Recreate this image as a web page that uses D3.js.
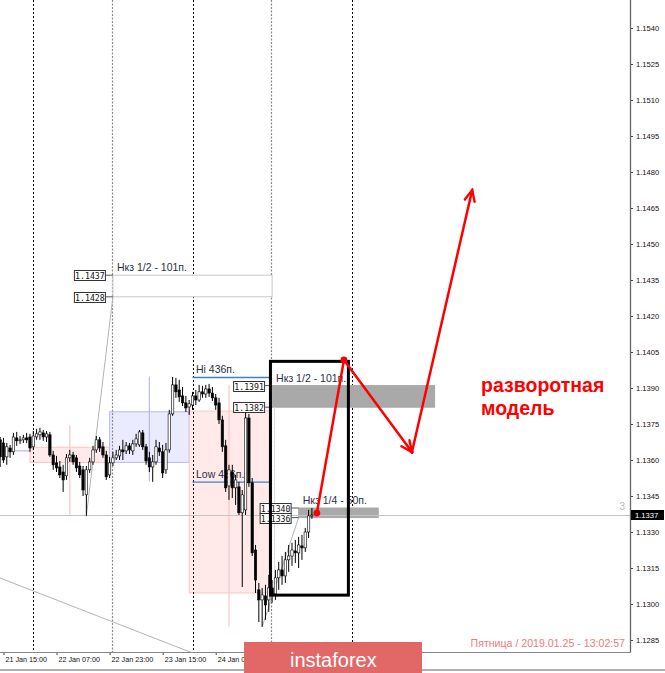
<!DOCTYPE html>
<html><head><meta charset="utf-8">
<script src="https://cdn.jsdelivr.net/npm/d3@7"></script>
<style>html,body{margin:0;padding:0;background:#fff;overflow:hidden}</style>
</head><body>
<svg id="c" width="665" height="673"></svg>
<script>
// ---------- DATA ----------
const firstBar = "2019-01-21T14:00Z"; // H1 bars, EURUSD
const opens = [1.13684,1.13671,1.13613,1.13650,1.13634,1.13692,1.13680,1.13684,1.13692,1.13696,
1.13655,1.13696,1.13705,1.13713,1.13696,1.13705,1.13621,1.13588,1.13571,1.13550,
1.13534,1.13609,1.13621,1.13609,1.13575,1.13559,1.13455,1.13559,1.13592,1.13642,
1.13684,1.13655,1.13621,1.13538,1.13588,1.13609,1.13617,1.13642,1.13638,1.13659,
1.13638,1.13667,1.13663,1.13713,1.13655,1.13609,1.13571,1.13592,1.13650,1.13634,
1.13559,1.13642,1.13792,1.13913,1.13892,1.13867,1.13838,1.13821,1.13829,1.13867,
1.13850,1.13884,1.13875,1.13896,1.13879,1.13859,1.13838,1.13767,1.13659,1.13492,
1.13550,1.13484,1.13488,1.13380,1.13392,1.13775,1.13505,1.13225,1.13059,1.13017,
1.13034,1.13017,1.13067,1.13042,1.13109,1.13142,1.13117,1.13184,1.13200,1.13221,
1.13213,1.13242,1.13234,1.13300,1.13367];
const highs = [1.13696,1.13692,1.13671,1.13663,1.13713,1.13717,1.13700,1.13705,1.13713,1.13709,
1.13721,1.13730,1.13734,1.13725,1.13721,1.13717,1.13638,1.13617,1.13596,1.13580,
1.13625,1.13642,1.13634,1.13621,1.13592,1.13575,1.13575,1.13609,1.13659,1.13700,
1.13696,1.13675,1.13638,1.13613,1.13634,1.13642,1.13659,1.13684,1.13675,1.13671,
1.13684,1.13709,1.13725,1.13725,1.13667,1.13634,1.13621,1.13684,1.13675,1.13663,
1.13671,1.13809,1.13946,1.13942,1.13934,1.13904,1.13867,1.13850,1.13884,1.13892,
1.13913,1.13909,1.13913,1.13917,1.13904,1.13875,1.13859,1.13784,1.13684,1.13580,
1.13580,1.13538,1.13509,1.13475,1.13809,1.13792,1.13525,1.13246,1.13088,1.13067,
1.13080,1.13121,1.13100,1.13142,1.13175,1.13200,1.13217,1.13246,1.13255,1.13267,
1.13280,1.13288,1.13317,1.13392,1.13400];
const lows = [1.13571,1.13588,1.13580,1.13609,1.13621,1.13659,1.13667,1.13671,1.13671,1.13634,
1.13642,1.13684,1.13684,1.13680,1.13675,1.13613,1.13559,1.13550,1.13525,1.13467,
1.13517,1.13592,1.13580,1.13550,1.13525,1.13450,1.13367,1.13546,1.13580,1.13630,
1.13634,1.13609,1.13517,1.13525,1.13575,1.13600,1.13600,1.13600,1.13625,1.13625,
1.13621,1.13655,1.13655,1.13642,1.13580,1.13550,1.13509,1.13580,1.13617,1.13525,
1.13542,1.13630,1.13784,1.13859,1.13842,1.13825,1.13800,1.13788,1.13809,1.13829,
1.13842,1.13859,1.13859,1.13863,1.13846,1.13809,1.13750,1.13634,1.13467,1.13434,
1.13442,1.13413,1.13371,1.13071,1.13371,1.13488,1.13200,1.13046,1.12925,1.12905,
1.12934,1.12967,1.13005,1.13017,1.13059,1.13080,1.13088,1.13134,1.13159,1.13171,
1.13150,1.13184,1.13217,1.13275,1.13355];
const closes = [1.13613,1.13600,1.13655,1.13634,1.13696,1.13680,1.13684,1.13692,1.13684,1.13650,
1.13700,1.13709,1.13717,1.13696,1.13709,1.13621,1.13580,1.13567,1.13538,1.13517,
1.13609,1.13621,1.13592,1.13567,1.13538,1.13475,1.13559,1.13592,1.13642,1.13684,
1.13650,1.13621,1.13530,1.13588,1.13609,1.13621,1.13642,1.13634,1.13659,1.13642,
1.13667,1.13688,1.13717,1.13655,1.13596,1.13571,1.13592,1.13655,1.13634,1.13546,
1.13642,1.13792,1.13913,1.13884,1.13863,1.13838,1.13817,1.13834,1.13867,1.13850,
1.13884,1.13875,1.13896,1.13879,1.13859,1.13829,1.13767,1.13655,1.13484,1.13559,
1.13484,1.13517,1.13380,1.13455,1.13775,1.13505,1.13213,1.13100,1.13017,1.13038,
1.12996,1.13067,1.13038,1.13109,1.13142,1.13117,1.13184,1.13200,1.13225,1.13213,
1.13246,1.13234,1.13300,1.13367,1.13371];

const priceTicks = [1.1540,1.1525,1.1510,1.1495,1.1480,1.1465,1.1450,1.1435,1.1420,1.1405,1.1390,1.1375,1.1360,1.1345,1.1330,1.1315,1.1300,1.1285];
const timeTicks = ["2019-01-21T15:00Z","2019-01-22T07:00Z","2019-01-22T23:00Z","2019-01-23T15:00Z","2019-01-24T07:00Z"];
const timeTickLabels = ["21 Jan 15:00","22 Jan 07:00","22 Jan 23:00","23 Jan 15:00","24 Jan 07:00"];
const daySeparators = ["2019-01-22T00:00Z","2019-01-24T00:00Z","2019-01-26T00:00Z"];
const bidPrice = 1.1337;

// daily range boxes
const dayBoxT0 = ["2019-01-21T23:00Z","2019-01-22T23:00Z","2019-01-23T23:00Z"];
const dayBoxT1 = ["2019-01-22T23:00Z","2019-01-23T23:00Z","2019-01-24T23:30Z"];
const dayBoxHi = [1.13653,1.13801,1.13804];
const dayBoxLo = [1.13590,1.13590,1.13046];
const dayMidT = ["2019-01-22T11:00Z","2019-01-23T11:00Z","2019-01-24T11:00Z"];
const dayMidHi = [1.13746,1.13947,1.13913];
const dayMidLo = [1.13371,1.13510,1.12904];
const prevDayLine = {t0:"2019-01-21T12:00Z", t1:"2019-01-21T23:00Z", p:1.13638};

// control zones
const zoneNames = ["Нкз 1/2 - 101п.","Нкз 1/2 - 101п.","Нкз 1/4 - 50п."];
const zoneT0 = ["2019-01-23T00:00Z","2019-01-25T00:00Z","2019-01-25T08:00Z"];
const zoneT1 = ["2019-01-25T00:00Z","2019-01-27T01:00Z","2019-01-26T08:00Z"];
const zoneHi = [1.1437,1.1391,1.1340];
const zoneLo = [1.1428,1.1382,1.1336];

// range of 24 Jan
const rangeT0 = "2019-01-24T00:00Z", rangeT1 = "2019-01-24T23:30Z";
const rangeHi = 1.13944, rangeLo = 1.13508;
const rangeLabels = ["Hi 436п.","Low 436п."];

// grey trend lines
const trendLines = [
  [["2019-01-22T16:00Z",1.13367],["2019-01-23T00:00Z",1.1428]],
  [["2019-01-21T12:00Z",1.13119],["2019-01-24T00:00Z",1.12796]],
  [["2019-01-24T21:00Z",1.12905],["2019-01-25T08:00Z",1.1336]]
];
const faintLine = [["2019-01-25T00:45Z",1.1382],["2019-01-25T00:45Z",1.1306]];

// forecast box and arrows
const boxT0 = "2019-01-24T23:30Z", boxT1 = "2019-01-25T23:00Z", boxHi = 1.14011, boxLo = 1.13037;
const forecast = [["2019-01-25T13:30Z",1.13379],["2019-01-25T21:40Z",1.14017],["2019-01-26T18:10Z",1.13633],["2019-01-27T12:20Z",1.14725]];
const noteLines = ["разворотная","модель"];
const noteAt = ["2019-01-27T15:00Z",1.13883];
const dateText = "Пятница  /  2019.01.25  -  13:02:57";

// ---------- CHART ----------
const T = s => new Date(s);
const svg = d3.select("#c");
const plotR = 630, plotB = 652;
const x = d3.scaleUtc().domain([T("2019-01-22T00:00Z"), T("2019-01-26T00:00Z")]).range([33.3, 351.7]);
const y = d3.scaleLinear().domain([1.1285, 1.1540]).range([640, 28]);
const t0ms = Date.parse(firstBar);
const candles = opens.map((o,i)=>({t:new Date(t0ms+i*3600e3), o, h:highs[i], l:lows[i], c:closes[i]}));

const defs = svg.append("defs");
defs.append("clipPath").attr("id","plot").append("rect").attr("x",0).attr("y",0).attr("width",plotR).attr("height",plotB);
defs.append("marker").attr("id","arr").attr("viewBox","-14 -8 16 16").attr("refX",0).attr("refY",0)
  .attr("markerWidth",16).attr("markerHeight",16).attr("markerUnits","userSpaceOnUse").attr("orient","auto")
  .append("path").attr("d","M-11,-5 L0,0 L-11,5").attr("fill","none").attr("stroke","#ff0000").attr("stroke-width",2.4).attr("stroke-linecap","round");

const g = svg.append("g").attr("clip-path","url(#plot)");

// day boxes
const boxFill = ["#ffe9e9","#ebebff","#ffe9e9"], boxStroke = ["#ffc4c4","#b8b8f4","#ffc4c4"];
dayBoxT0.forEach((t,i)=>{
  g.append("rect").attr("x",x(T(t))).attr("y",y(dayBoxHi[i]))
   .attr("width",x(T(dayBoxT1[i]))-x(T(t))).attr("height",y(dayBoxLo[i])-y(dayBoxHi[i]))
   .attr("fill",boxFill[i]).attr("stroke",boxStroke[i]).attr("stroke-width",1);
  g.append("line").attr("x1",x(T(dayMidT[i]))).attr("x2",x(T(dayMidT[i])))
   .attr("y1",y(dayMidHi[i])).attr("y2",y(dayMidLo[i])).attr("stroke",boxStroke[i]).attr("stroke-width",1.2);
});
g.append("line").attr("x1",x(T(prevDayLine.t0))).attr("x2",x(T(prevDayLine.t1)))
 .attr("y1",y(prevDayLine.p)).attr("y2",y(prevDayLine.p)).attr("stroke","#a8a8f0").attr("stroke-width",1);

// separators
daySeparators.forEach(s=>{
  g.append("line").attr("x1",Math.round(x(T(s)))+0.5).attr("x2",Math.round(x(T(s)))+0.5).attr("y1",0).attr("y2",plotB)
   .attr("stroke","#000").attr("stroke-dasharray","2,2");
});
[zoneT0[0], zoneT0[1]].forEach(s=>{
  g.append("line").attr("x1",Math.round(x(T(s)))-0.5).attr("x2",Math.round(x(T(s)))-0.5).attr("y1",0).attr("y2",plotB)
   .attr("stroke","#8a8a8a").attr("stroke-width",1.2).attr("stroke-dasharray","2,1.5");
});

// zones
const zoneFill = ["#ffffff","#a9a9a9","#a9a9a9"], zoneStroke = ["#c8c8c8","#a9a9a9","#a9a9a9"];
zoneT0.forEach((t,i)=>{
  g.append("rect").attr("x",x(T(t))).attr("y",y(zoneHi[i]))
   .attr("width",x(T(zoneT1[i]))-x(T(t))).attr("height",y(zoneLo[i])-y(zoneHi[i]))
   .attr("fill",zoneFill[i]).attr("stroke",zoneStroke[i]).attr("stroke-width",1);
});

// trend lines
trendLines.forEach(l=>{
  g.append("line").attr("x1",x(T(l[0][0]))).attr("y1",y(l[0][1])).attr("x2",x(T(l[1][0]))).attr("y2",y(l[1][1]))
   .attr("stroke","#b4b4b4").attr("stroke-width",1);
});
g.append("line").attr("x1",x(T(faintLine[0][0]))).attr("y1",y(faintLine[0][1])).attr("x2",x(T(faintLine[1][0]))).attr("y2",y(faintLine[1][1]))
 .attr("stroke","#dadada").attr("stroke-width",1);

// bid line
g.append("line").attr("x1",0).attr("x2",plotR).attr("y1",Math.round(y(bidPrice))+0.5).attr("y2",Math.round(y(bidPrice))+0.5)
 .attr("stroke","#c4c4c4").attr("stroke-width",1);
svg.append("text").attr("x",plotR-5).attr("y",y(bidPrice)-5).attr("text-anchor","end")
 .attr("font-family","Liberation Sans, Arial, sans-serif").attr("font-size",10).attr("fill","#b8b8b8").text("3");

// Hi / Low lines
[rangeHi, rangeLo].forEach((p,i)=>{
  g.append("line").attr("x1",x(T(rangeT0))).attr("x2",x(T(rangeT1))).attr("y1",y(p)).attr("y2",y(p))
   .attr("stroke","#3f7fcf").attr("stroke-width",1.4);
  g.append("text").attr("x",x(T(rangeT0))+3.5).attr("y",y(p)-4)
   .attr("font-family","Liberation Sans, Arial, sans-serif").attr("font-size",10.5).attr("fill","#2a2f45").text(rangeLabels[i]);
});

// candles
const cg = g.append("g");
candles.forEach(d=>{
  const cx = x(d.t);
  cg.append("line").attr("x1",cx).attr("x2",cx).attr("y1",y(d.h)).attr("y2",y(d.l)).attr("stroke","#000").attr("stroke-width",1);
  const top = y(Math.max(d.o,d.c)), bot = y(Math.min(d.o,d.c));
  const up = d.c >= d.o;
  cg.append("rect").attr("x",cx-1.2).attr("y",top).attr("width",2.4).attr("height",Math.max(0.8,bot-top))
    .attr("fill",up?"#fff":"#000").attr("stroke","#000").attr("stroke-width",0.6);
});

// zone labels and price tags
const tagFont = "DejaVu Sans Mono, Liberation Mono, monospace";
zoneT0.forEach((t,i)=>{
  const zx = x(T(t));
  g.append("text").attr("x",zx+4).attr("y",y(zoneHi[i])-4)
   .attr("font-family","Liberation Sans, Arial, sans-serif").attr("font-size",10.5).attr("fill","#2a2f45").text(zoneNames[i]);
  [zoneHi[i], zoneLo[i]].forEach(p=>{
    const py = y(p);
    g.append("line").attr("x1",zx-7).attr("x2",zx).attr("y1",py).attr("y2",py).attr("stroke","#555").attr("stroke-width",1);
    g.append("rect").attr("x",zx-38.5).attr("y",Math.round(py)-4.5).attr("width",31).attr("height",10)
     .attr("fill","#fff").attr("stroke","#333").attr("stroke-width",1);
    g.append("text").attr("x",zx-23).attr("y",Math.round(py)+3.5).attr("text-anchor","middle")
     .attr("font-family",tagFont).attr("font-size",8.2).attr("fill","#111").text(d3.format(".4f")(p));
  });
});

// forecast box
g.append("rect").attr("x",x(T(boxT0))).attr("y",y(boxHi)).attr("width",x(T(boxT1))-x(T(boxT0)))
 .attr("height",y(boxLo)-y(boxHi)).attr("fill","none").attr("stroke","#000").attr("stroke-width",3);

// red forecast path
const fp = forecast.map(d=>[x(T(d[0])), y(d[1])]);
g.append("line").attr("x1",fp[0][0]).attr("y1",fp[0][1]).attr("x2",fp[1][0]).attr("y2",fp[1][1])
 .attr("stroke","#ff0000").attr("stroke-width",2.5).attr("stroke-linecap","round");
g.append("line").attr("x1",fp[1][0]).attr("y1",fp[1][1]).attr("x2",fp[2][0]).attr("y2",fp[2][1])
 .attr("stroke","#ff0000").attr("stroke-width",2.5).attr("stroke-linecap","round").attr("marker-end","url(#arr)");
g.append("line").attr("x1",fp[2][0]).attr("y1",fp[2][1]).attr("x2",fp[3][0]).attr("y2",fp[3][1])
 .attr("stroke","#ff0000").attr("stroke-width",2.5).attr("stroke-linecap","round").attr("marker-end","url(#arr)");
[fp[0], fp[1]].forEach(p=>g.append("circle").attr("cx",p[0]).attr("cy",p[1]).attr("r",3.4).attr("fill","#ff0000"));
g.append("circle").attr("cx",fp[2][0]).attr("cy",fp[2][1]).attr("r",1.8).attr("fill","#ff0000");

// note
const nt = svg.append("text").attr("x",x(T(noteAt[0]))).attr("y",y(noteAt[1]))
 .attr("font-family","Liberation Sans, Arial, sans-serif").attr("font-weight","bold").attr("font-size",19.5).attr("fill","#ff0000");
noteLines.forEach((s,i)=>nt.append("tspan").attr("x",x(T(noteAt[0]))).attr("dy",i?23:0).text(s));

// right axis
const ya = svg.append("g").attr("transform",`translate(${plotR},0)`)
 .call(d3.axisRight(y).tickValues(priceTicks).tickSize(3).tickPadding(3).tickFormat(d3.format(".4f")));
ya.select(".domain").remove();
ya.selectAll("line").attr("stroke","#444");
ya.selectAll("text").attr("font-family","Liberation Sans, Arial, sans-serif").attr("font-size",7.6).attr("fill","#111");

// bottom axis
const xa = svg.append("g").attr("transform",`translate(0,${plotB})`)
 .call(d3.axisBottom(x).tickValues(timeTicks.map(T)).tickSize(3).tickFormat((d,i)=>timeTickLabels[i]));
xa.select(".domain").remove();
xa.selectAll("line").attr("stroke","#444");
xa.selectAll("text").attr("text-anchor","start").attr("x",1.5).attr("y",5)
 .attr("font-family","Liberation Sans, Arial, sans-serif").attr("font-size",7.2).attr("fill","#111");

// frame
svg.append("line").attr("x1",plotR+0.5).attr("x2",plotR+0.5).attr("y1",0).attr("y2",plotB+0.5).attr("stroke","#666").attr("stroke-width",1.3);
svg.append("line").attr("x1",0).attr("x2",plotR+0.5).attr("y1",plotB+0.5).attr("y2",plotB+0.5).attr("stroke","#888").attr("stroke-width",1);
svg.append("line").attr("x1",0).attr("x2",665).attr("y1",670).attr("y2",670).attr("stroke","#b0b0b0").attr("stroke-width",2);

// current price tag
const by = Math.round(y(bidPrice));
svg.append("rect").attr("x",plotR+1).attr("y",by-5).attr("width",33).attr("height",10).attr("fill","#000");
svg.append("text").attr("x",plotR+5).attr("y",by+3).attr("font-family","Liberation Sans, Arial, sans-serif")
 .attr("font-size",7.6).attr("fill","#fff").text(d3.format(".4f")(bidPrice));

// date text
svg.append("text").attr("x",625).attr("y",647).attr("text-anchor","end")
 .attr("font-family","Liberation Sans, Arial, sans-serif").attr("font-size",10.6).attr("fill","#f07a7a").text(dateText);

// logo
svg.append("rect").attr("x",244).attr("y",642).attr("width",178).attr("height",31).attr("fill","#e26868");
svg.append("text").attr("x",290).attr("y",667).attr("font-family","Liberation Sans, Arial, sans-serif")
 .attr("font-size",20).attr("fill","#fff").text("instaforex");
</script>
</body></html>
